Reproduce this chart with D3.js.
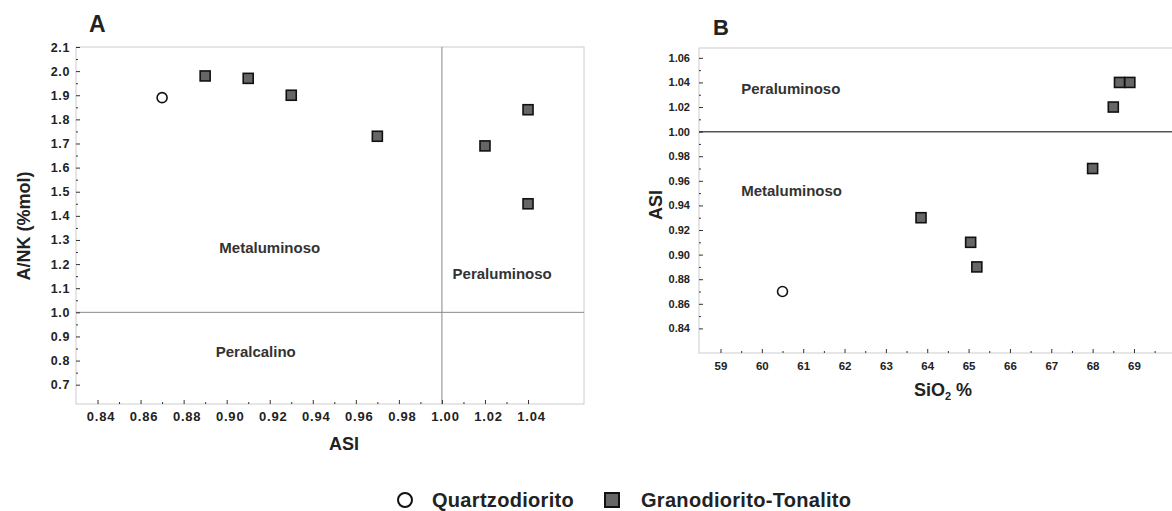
<!DOCTYPE html>
<html>
<head>
<meta charset="utf-8">
<script src="https://d3js.org/d3.v7.min.js"></script>
<title>ASI diagrams</title>
<style>
body { margin: 0; background: #fff; }
svg { display: block; font-family: "Liberation Sans", Arial, sans-serif; }
.tick text { font-weight: bold; fill: #222; }
.tick line { stroke: #333; }
</style>
</head>
<body>
<svg id="svg" width="1172" height="511"></svg>
<script>

// panel A : ASI vs A/NK
let quartzoAsiA = [0.87];
let quartzoAnk = [1.89];
let granoAsiA = [0.89, 0.91, 0.93, 0.97, 1.02, 1.04, 1.04];
let granoAnk = [1.98, 1.97, 1.90, 1.73, 1.69, 1.84, 1.45];
let ticksAx = [0.84, 0.86, 0.88, 0.90, 0.92, 0.94, 0.96, 0.98, 1.00, 1.02, 1.04];
let ticksAy = [0.7, 0.8, 0.9, 1.0, 1.1, 1.2, 1.3, 1.4, 1.5, 1.6, 1.7, 1.8, 1.9, 2.0, 2.1];

// panel B : SiO2 vs ASI
let quartzoSio2 = [60.5];
let quartzoAsiB = [0.87];
let granoSio2 = [63.85, 65.05, 65.2, 68.0, 68.5, 68.65, 68.9];
let granoAsiB = [0.93, 0.91, 0.89, 0.97, 1.02, 1.04, 1.04];
let ticksBx = [59, 60, 61, 62, 63, 64, 65, 66, 67, 68, 69];
let ticksBy = [0.84, 0.86, 0.88, 0.90, 0.92, 0.94, 0.96, 0.98, 1.00, 1.02, 1.04, 1.06];

let legendNames = ["Quartzodiorito", "Granodiorito-Tonalito"];

let svg = d3.select("svg");

function zip(xs, ys) {
  return xs.map(function(x, i) { return {x: x, y: ys[i]}; });
}

function minors(ticks, step) {
  // one small tick halfway between the major ones
  let out = [];
  for (let i = 0; i < ticks.length; i++) out.push(+(ticks[i] + step / 2).toFixed(4));
  return out;
}

function drawMarks(g, x, y, circles, squares, size) {
  g.selectAll(".sq").data(squares).enter().append("rect")
    .attr("class", "sq")
    .attr("x", function(d) { return x(d.x) - size / 2; })
    .attr("y", function(d) { return y(d.y) - size / 2; })
    .attr("width", size)
    .attr("height", size)
    .attr("fill", "#666")
    .attr("stroke", "#111")
    .attr("stroke-width", 1.6);
  g.selectAll(".ci").data(circles).enter().append("circle")
    .attr("class", "ci")
    .attr("cx", function(d) { return x(d.x); })
    .attr("cy", function(d) { return y(d.y); })
    .attr("r", 5)
    .attr("fill", "#fff")
    .attr("stroke", "#111")
    .attr("stroke-width", 1.6);
}

/* ---------- panel A ---------- */
let xA = d3.scaleLinear().domain([0.83, 1.066]).range([76, 584]);
let yA = d3.scaleLinear().domain([0.62, 2.1]).range([404, 47]);
let gA = svg.append("g");

gA.append("rect")
  .attr("x", 76).attr("y", 47).attr("width", 508).attr("height", 357)
  .attr("fill", "none").attr("stroke", "#ccc");

gA.append("line")
  .attr("x1", xA(1.0)).attr("x2", xA(1.0)).attr("y1", 47).attr("y2", 404)
  .attr("stroke", "#888");
gA.append("line")
  .attr("x1", 76).attr("x2", 584).attr("y1", yA(1.0)).attr("y2", yA(1.0))
  .attr("stroke", "#888");

gA.append("g").attr("transform", "translate(0,404)")
  .call(d3.axisBottom(xA).tickValues(ticksAx).tickSize(-4).tickPadding(8).tickFormat(d3.format(".2f")))
  .call(function(g) {
    g.select(".domain").remove();
    g.selectAll("text").attr("font-size", 13).attr("letter-spacing", 0.8).attr("dx", 3);
  });
gA.append("g").attr("transform", "translate(0,404)")
  .call(d3.axisBottom(xA).tickValues(minors(ticksAx.slice(0, 10), 0.02)).tickSize(-2).tickFormat(""))
  .call(function(g) { g.select(".domain").remove(); });

gA.append("g").attr("transform", "translate(76,0)")
  .call(d3.axisLeft(yA).tickValues(ticksAy).tickSize(-4).tickPadding(6).tickFormat(d3.format(".1f")))
  .call(function(g) {
    g.select(".domain").remove();
    g.selectAll("text").attr("font-size", 12.5).attr("letter-spacing", 0.6);
  });
gA.append("g").attr("transform", "translate(76,0)")
  .call(d3.axisLeft(yA).tickValues(minors(ticksAy.slice(0, 14), 0.1)).tickSize(-2).tickFormat(""))
  .call(function(g) { g.select(".domain").remove(); });

gA.append("text").attr("x", 89).attr("y", 32)
  .attr("font-size", 23).attr("font-weight", "bold").attr("fill", "#222").text("A");
gA.append("text").attr("x", 344).attr("y", 450).attr("text-anchor", "middle")
  .attr("font-size", 18).attr("font-weight", "bold").attr("fill", "#222").text("ASI");
gA.append("text").attr("transform", "translate(30,226) rotate(-90)").attr("text-anchor", "middle")
  .attr("font-size", 18).attr("font-weight", "bold").attr("fill", "#222").text("A/NK (%mol)");

let regionsA = [
  {t: "Metaluminoso", x: 0.920, y: 1.245},
  {t: "Peraluminoso", x: 1.028, y: 1.14},
  {t: "Peralcalino", x: 0.9135, y: 0.815}
];
gA.selectAll(".reg").data(regionsA).enter().append("text")
  .attr("class", "reg")
  .attr("x", function(d) { return xA(d.x); })
  .attr("y", function(d) { return yA(d.y); })
  .attr("text-anchor", "middle")
  .attr("font-size", 15).attr("font-weight", "bold").attr("fill", "#333")
  .text(function(d) { return d.t; });

drawMarks(gA, xA, yA, zip(quartzoAsiA, quartzoAnk), zip(granoAsiA, granoAnk), 10);

/* ---------- panel B ---------- */
let xB = d3.scaleLinear().domain([58.48, 69.92]).range([699, 1172]);
let yB = d3.scaleLinear().domain([0.82, 1.068]).range([353, 48]);
let gB = svg.append("g");

gB.append("rect")
  .attr("x", 699).attr("y", 48).attr("width", 490).attr("height", 305)
  .attr("fill", "none").attr("stroke", "#ccc");
gB.append("line")
  .attr("x1", 699).attr("x2", 1172).attr("y1", yB(1.0)).attr("y2", yB(1.0))
  .attr("stroke", "#555").attr("stroke-width", 1.5);

gB.append("g").attr("transform", "translate(0,353)")
  .call(d3.axisBottom(xB).tickValues(ticksBx).tickSize(-4).tickPadding(9).tickFormat(d3.format("d")))
  .call(function(g) { g.select(".domain").remove(); g.selectAll("text").attr("font-size", 11.5); });
gB.append("g").attr("transform", "translate(0,353)")
  .call(d3.axisBottom(xB).tickValues(minors(ticksBx, 1)).tickSize(-2).tickFormat(""))
  .call(function(g) { g.select(".domain").remove(); });

gB.append("g").attr("transform", "translate(699,0)")
  .call(d3.axisLeft(yB).tickValues(ticksBy).tickSize(-4).tickPadding(9).tickFormat(d3.format(".2f")))
  .call(function(g) { g.select(".domain").remove(); g.selectAll("text").attr("font-size", 11); });
gB.append("g").attr("transform", "translate(699,0)")
  .call(d3.axisLeft(yB).tickValues(minors(ticksBy.slice(0, 11), 0.02)).tickSize(-2).tickFormat(""))
  .call(function(g) { g.select(".domain").remove(); });

gB.append("text").attr("x", 713).attr("y", 35)
  .attr("font-size", 22).attr("font-weight", "bold").attr("fill", "#222").text("B");
gB.append("text").attr("transform", "translate(662,205) rotate(-90)").attr("text-anchor", "middle")
  .attr("font-size", 18).attr("font-weight", "bold").attr("fill", "#222").text("ASI");

let sio = gB.append("text").attr("x", 943).attr("y", 396).attr("text-anchor", "middle")
  .attr("font-size", 18).attr("font-weight", "bold").attr("fill", "#222");
sio.append("tspan").text("SiO");
sio.append("tspan").attr("font-size", 11).attr("dy", 4).text("2");
sio.append("tspan").attr("dy", -4).text(" %");

let regionsB = [
  {t: "Peraluminoso", x: 59.5, y: 1.031},
  {t: "Metaluminoso", x: 59.5, y: 0.948}
];
gB.selectAll(".reg").data(regionsB).enter().append("text")
  .attr("class", "reg")
  .attr("x", function(d) { return xB(d.x); })
  .attr("y", function(d) { return yB(d.y); })
  .attr("font-size", 15).attr("font-weight", "bold").attr("fill", "#333")
  .text(function(d) { return d.t; });

drawMarks(gB, xB, yB, zip(quartzoSio2, quartzoAsiB), zip(granoSio2, granoAsiB), 10);

/* ---------- legend ---------- */
let lg = svg.append("g");
lg.append("circle").attr("cx", 405).attr("cy", 500).attr("r", 7)
  .attr("fill", "#fff").attr("stroke", "#111").attr("stroke-width", 2);
lg.append("rect").attr("x", 605).attr("y", 493).attr("width", 14).attr("height", 14)
  .attr("fill", "#666").attr("stroke", "#111").attr("stroke-width", 2);
lg.selectAll(".lt").data(legendNames).enter().append("text")
  .attr("class", "lt")
  .attr("x", function(d, i) { return i == 0 ? 432 : 641; })
  .attr("y", 507)
  .attr("font-size", 20).attr("font-weight", "bold").attr("letter-spacing", 0.3).attr("fill", "#222")
  .text(function(d) { return d; });

</script>
</html>
